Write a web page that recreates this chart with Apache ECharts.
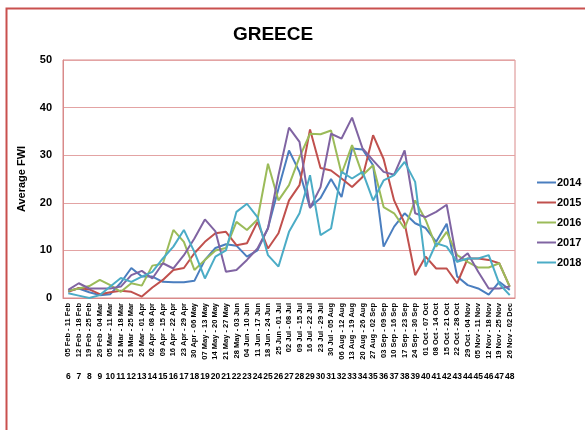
<!DOCTYPE html>
<html>
<head>
<meta charset="utf-8">
<script src="https://cdn.jsdelivr.net/npm/echarts@6/dist/echarts.min.js"></script>
<style>
  html, body { margin: 0; padding: 0; background: #fff; }
  #chart { width: 585px; height: 430px; }
</style>
</head>
<body>
<div id="chart"></div>
<script>
// Weekly periods (week 6 to week 48)
const periods = [
  '05 Feb - 11 Feb', '12 Feb - 18 Feb', '19 Feb - 25 Feb', '26 Feb - 04 Mar',
  '05 Mar - 11 Mar', '12 Mar - 18 Mar', '19 Mar - 25 Mar', '26 Mar - 01 Apr',
  '02 Apr - 08 Apr', '09 Apr - 15 Apr', '16 Apr - 22 Apr', '23 Apr - 29 Apr',
  '30 Apr - 06 May', '07 May - 13 May', '14 May - 20 May', '21 May - 27 May',
  '28 May - 03 Jun', '04 Jun - 10 Jun', '11 Jun - 17 Jun', '18 Jun - 24 Jun',
  '25 Jun - 01 Jul', '02 Jul - 08 Jul', '09 Jul - 15 Jul', '16 Jul - 22 Jul',
  '23 Jul - 29 Jul', '30 Jul - 05 Aug', '06 Aug - 12 Aug', '13 Aug - 19 Aug',
  '20 Aug - 26 Aug', '27 Aug - 02 Sep', '03 Sep - 09 Sep', '10 Sep - 16 Sep',
  '17 Sep - 23 Sep', '24 Sep - 30 Sep', '01 Oct - 07 Oct', '08 Oct - 14 Oct',
  '15 Oct - 21 Oct', '22 Oct - 28 Oct', '29 Oct - 04 Nov', '05 Nov - 11 Nov',
  '12 Nov - 18 Nov', '19 Nov - 25 Nov', '26 Nov - 02 Dec'
];
const weeks = ['6','7','8','9','10','11','12','13','14','15','16','17','18','19','20',
  '21','22','23','24','25','26','27','28','29','30','31','32','33','34','35','36',
  '37','38','39','40','41','42','43','44','45','46','47','48'];

const yTicks = [0, 10, 20, 30, 40, 50];

// Average FWI per week
const fwi2014 = [1.5, 2, 1.2, 0.6, 0.8, 3.2, 6.3, 4.5, 4.5, 3.4, 3.3, 3.3, 3.6, 8, 10.5, 11.3, 11, 8.7, 10, 14.7,
  23, 31, 26.5, 19, 21, 25, 21.2, 31.4, 31.2, 27.9, 10.8, 15, 17.8, 15.7, 14.7, 11.8, 15.6, 4.5, 2.7, 2, 0.7, 3.4, 1.7];
const fwi2015 = [1.3, 2.1, 1.8, 0.8, 1.2, 1.5, 1.3, 0.3, 2.2, 3.8, 5.9, 6.3, 9.4, 11.8, 13.6, 13.9, 11.1, 11.5, 16, 10.4,
  13.6, 20.5, 23.7, 35.4, 27.3, 26.8, 25.1, 23.3, 25.4, 34.2, 29.2, 20.5, 15.7, 4.8, 8.7, 6.2, 6.2, 3.1, 8.3, 8.3, 8, 7.3, 2.4];
const fwi2016 = [1.5, 2, 2.5, 3.8, 2.7, 1.3, 3.1, 2.6, 6.8, 7.2, 14.3, 11.8, 5.9, 8, 10, 10.5, 16, 14.3, 16.5, 28.2,
  20.5, 23.7, 29.6, 34.5, 34.4, 35.2, 26.1, 32.1, 25.8, 27.9, 19.1, 17.8, 14.6, 20.5, 16.4, 10.8, 13.9, 9, 7.6, 6.4, 6.4, 7.3, 2.4];
const fwi2017 = [1.7, 3.1, 2, 2, 2, 2.4, 4.8, 5.7, 4.1, 7.3, 6.2, 9, 12.5, 16.5, 14, 5.5, 5.9, 8, 10.4, 14.6,
  25.8, 35.8, 32.8, 18.9, 23.3, 34.5, 33.5, 37.9, 31.4, 28.9, 26.5, 25.9, 31, 17.8, 17, 18.1, 19.6, 7.6, 9.4, 5.5, 2, 2, 2.4];
const fwi2018 = [1, 0.5, 0, 0.6, 2.4, 4.2, 3.4, 4.5, 5.5, 8.3, 10.8, 14.3, 9.7, 4.1, 8.7, 10, 18.1, 19.8, 17, 9,
  6.6, 13.9, 17.8, 25.8, 13.2, 14.6, 26.5, 25.1, 26.5, 20.5, 24.7, 25.8, 28.6, 24.4, 6.6, 11.5, 10.8, 7.6, 8.3, 8.3, 9, 3, 0.6];

const years = ['2014', '2015', '2016', '2017', '2018'];
const values = [fwi2014, fwi2015, fwi2016, fwi2017, fwi2018];
const colors = ['#4A7EBF', '#C0504D', '#9BBB59', '#8064A2', '#4BACC6'];

const FONT = '"Liberation Sans", Arial, sans-serif';
const gridRed = '#E3A3A3';
const frameRed = '#D98A8A';

const chart = echarts.init(document.getElementById('chart'), null, { renderer: 'canvas' });

chart.setOption({
  animation: false,
  backgroundColor: '#ffffff',
  color: colors,
  title: {
    text: 'GREECE',
    left: 268,
    top: 20,
    textAlign: 'center',
    textStyle: { fontFamily: FONT, fontWeight: 'bold', fontSize: 19, color: '#000' }
  },
  legend: {
    orient: 'vertical',
    left: 532,
    top: 172,
    itemWidth: 19,
    itemHeight: 2,
    itemGap: 9,
    icon: 'rect',
    data: years,
    textStyle: { fontFamily: FONT, fontWeight: 'bold', fontSize: 11, color: '#000', padding: [0, 0, 0, -4] }
  },
  graphic: [
    {
      type: 'rect',
      shape: { x: 6.5, y: 8.5, width: 700, height: 500 },
      style: { fill: 'none', stroke: '#C9504F', lineWidth: 2 },
      silent: true
    }
  ],
  grid: {
    left: 63, right: 70, top: 60, bottom: 132, containLabel: false,
    show: true, borderColor: frameRed, borderWidth: 1, backgroundColor: 'transparent'
  },
  xAxis: [
    {
      type: 'category',
      data: periods,
      boundaryGap: true,
      axisLine: { show: true, lineStyle: { color: frameRed, width: 1 } },
      axisTick: { show: false },
      axisLabel: {
        rotate: 90,
        interval: 0,
        margin: 5,
        fontFamily: FONT,
        fontWeight: 'bold',
        fontSize: 7.5,
        color: '#000'
      }
    },
    {
      type: 'category',
      data: weeks,
      position: 'bottom',
      offset: 74,
      boundaryGap: true,
      axisLine: { show: false },
      axisTick: { show: false },
      axisLabel: {
        interval: 0,
        margin: 0,
        fontFamily: FONT,
        fontWeight: 'bold',
        fontSize: 8.5,
        color: '#000'
      }
    }
  ],
  yAxis: {
    type: 'value',
    min: yTicks[0],
    max: yTicks[yTicks.length - 1],
    interval: 10,
    name: 'Average FWI',
    nameLocation: 'middle',
    nameGap: 36,
    nameTextStyle: { fontFamily: FONT, fontWeight: 'bold', fontSize: 11, color: '#000' },
    axisLine: { show: true, lineStyle: { color: frameRed, width: 1 } },
    axisTick: { show: false },
    axisLabel: { fontFamily: FONT, fontWeight: 'bold', fontSize: 11, color: '#000', margin: 11 },
    splitLine: { show: true, lineStyle: { color: gridRed, width: 1 } }
  },
  series: years.map((y, i) => ({
    name: y,
    type: 'line',
    data: values[i],
    xAxisIndex: 0,
    symbol: 'none',
    smooth: false,
    lineStyle: { width: 2, color: colors[i] },
    itemStyle: { color: colors[i] }
  }))
});
</script>
</body>
</html>
